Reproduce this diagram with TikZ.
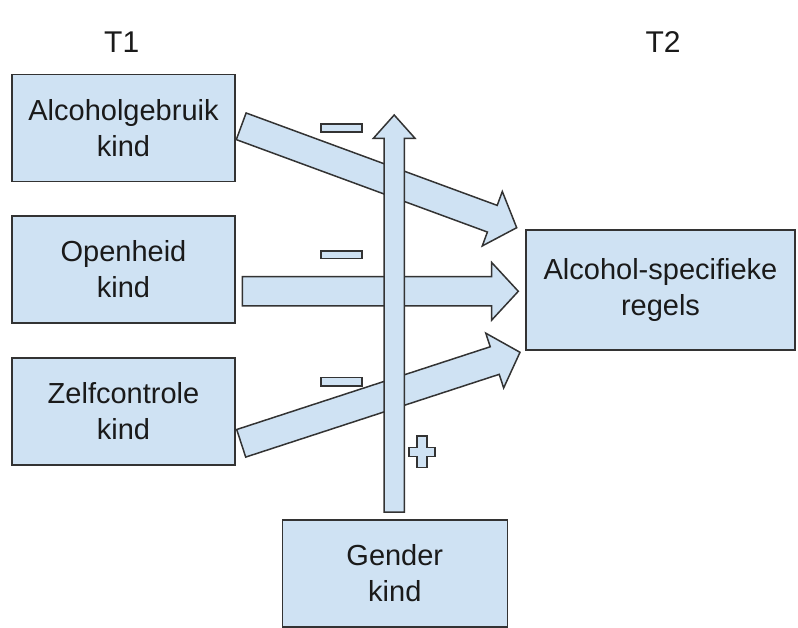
\documentclass[tikz,border=0pt]{standalone}
\usepackage{fontspec}
\setmainfont{Liberation Sans}
\usetikzlibrary{calc}
\definecolor{boxfill}{HTML}{CFE2F3}
\definecolor{boxline}{HTML}{333333}
\definecolor{txt}{HTML}{1A1A1A}
\tikzset{
  box/.style={draw=boxline, fill=boxfill, line width=1.5pt, align=center,
    text=txt, font=\fontsize{29}{36}\selectfont, inner sep=0pt},
  blockarrowbody/.style={draw=boxline, fill=boxfill, line width=1.5pt, line join=miter},
  timelabel/.style={text=txt, font=\fontsize{30}{36}\selectfont, inner sep=0pt},
  signshape/.style={draw=boxline, fill=boxfill, line width=1.4pt}
}
% #1 tail, #2 tip, #3 shaft half width, #4 head half width, #5 head length
\newcommand\myblockarrow[5]{%
  \coordinate (hb) at ($(#2)!#5!(#1)$);
  \filldraw[blockarrowbody]
    ($(#1)!#3!90:(#2)$) -- ($(hb)!#3!-90:(#1)$) -- ($(hb)!#4!-90:(#1)$) --
    (#2) -- ($(hb)!#4!90:(#1)$) -- ($(hb)!#3!90:(#1)$) --
    ($(#1)!#3!-90:(#2)$) -- cycle;
}
\begin{document}
\begin{tikzpicture}[x=1pt, y=-1pt]
\useasboundingbox (0,0) rectangle (798,628);

% labels
\node[timelabel] (t1) at (121.7,42) {T1};
\node[timelabel] (t2) at (663,42) {T2};

% boxes
\node[box, minimum width=223pt, minimum height=107pt] (alc) at (123.5,128) {Alcoholgebruik\\kind};
\node[box, minimum width=223pt, minimum height=107pt] (open) at (123.5,269.5) {Openheid\\kind};
\node[box, minimum width=223pt, minimum height=107pt] (zelf) at (123.5,411.5) {Zelfcontrole\\kind};
\node[box, minimum width=269pt, minimum height=120pt] (regels) at (660.5,290) {Alcohol-specifieke\\regels};
\node[box, minimum width=225pt, minimum height=107pt] (gender) at (394.8,573.5) {Gender\\kind};

% arrow end points
\coordinate (a1) at (241.2,126.3);
\coordinate (b1) at (516.7,227.7);
\coordinate (a2) at (242.3,291.3);
\coordinate (b2) at (518.3,291.3);
\coordinate (a3) at (241.2,443.3);
\coordinate (b3) at (520,352.3);
\coordinate (a4) at (394.2,512);
\coordinate (b4) at (394.2,115);

% horizontal / diagonal block arrows
\myblockarrow{a1}{b1}{14.2pt}{29pt}{26pt}
\myblockarrow{a2}{b2}{14.6pt}{28.8pt}{26.6pt}
\myblockarrow{a3}{b3}{14.5pt}{28.8pt}{26.6pt}

% vertical moderator arrow (on top)
\myblockarrow{a4}{b4}{10.2pt}{20.8pt}{23.3pt}

% minus signs
\filldraw[signshape] (321,124) rectangle (362,132);
\filldraw[signshape] (321,251) rectangle (362,258.5);
\filldraw[signshape] (321,377.5) rectangle (362,386);

% plus sign
\filldraw[signshape] (417,436) -- (427,436) -- (427,447.5) -- (435,447.5) -- (435,456.5)
  -- (427,456.5) -- (427,467.5) -- (417,467.5) -- (417,456.5) -- (409,456.5)
  -- (409,447.5) -- (417,447.5) -- cycle;
\end{tikzpicture}
\end{document}
